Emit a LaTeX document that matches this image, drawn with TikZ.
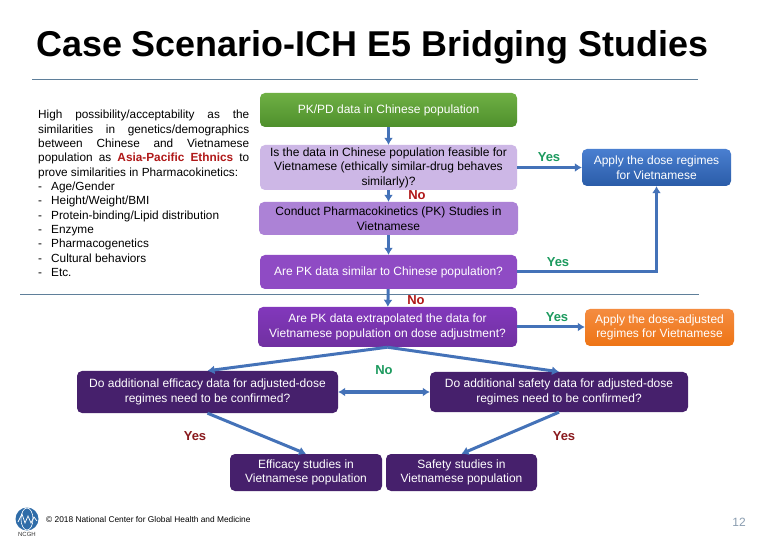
\documentclass[tikz,border=0pt]{standalone}
\usepackage{fontspec}
\setmainfont{Liberation Sans}
\usetikzlibrary{arrows.meta,calc}
\definecolor{linkblue}{HTML}{4472B8}
\definecolor{rulecol}{HTML}{5F7F9A}
\definecolor{yesgreen}{HTML}{1C9A5E}
\definecolor{nored}{HTML}{B01818}
\definecolor{yesred}{HTML}{8A1A1E}
\definecolor{darkvio}{HTML}{46206C}
\definecolor{greenT}{HTML}{6FB044}
\definecolor{greenB}{HTML}{4E8F2C}
\definecolor{lilac}{HTML}{CDB7E6}
\definecolor{midvio}{HTML}{AC82D6}
\definecolor{vio}{HTML}{8F4BC4}
\definecolor{vioT}{HTML}{8238BC}
\definecolor{vioB}{HTML}{7030A0}
\definecolor{blueT}{HTML}{4A7FD0}
\definecolor{blueB}{HTML}{2A5CA8}
\definecolor{orangeT}{HTML}{F48C40}
\definecolor{orangeB}{HTML}{EE7415}
\definecolor{logoblue}{HTML}{2F6CA8}
\definecolor{pagecol}{HTML}{8A9DB0}
\tikzset{
  flowbox/.style={rounded corners=5pt,inner sep=0pt,align=center,text=white,
    font=\fontsize{12}{14.6}\selectfont},
  link/.style={draw=linkblue,line width=3pt,-{Latex[length=7pt,width=9pt]}},
  tag/.style={font=\fontsize{13}{15}\selectfont\bfseries,inner sep=0pt},
  rulebar/.style={draw=rulecol,line width=0.8pt}
}
\newcommand{\boxat}[7]{% name, x0, y0, x1, y1, style, text
  \node[flowbox,#6,minimum width={(#4-#2)*1pt},minimum height={(#5-#3)*1pt}] (#1) at ({(#2+#4)/2},{(#3+#5)/2}) {#7};}
\newcommand{\dashitem}[1]{\leavevmode\hbox to 13pt{-\hfil}#1}
\begin{document}
\begin{tikzpicture}[x=1pt,y=-1pt]
\useasboundingbox (0,0) rectangle (780,540);
\fill[white] (0,0) rectangle (780,540);

% title and rules
\node[anchor=base west,inner sep=0pt,font=\fontsize{35.9}{40}\selectfont\bfseries] (title) at (36,57) {Case Scenario-ICH E5 Bridging Studies};
\coordinate (ruleAl) at (32,79); \coordinate (ruleAr) at (698,79);
\coordinate (ruleBl) at (20,294); \coordinate (ruleBr) at (699,294);
\draw[rulebar] (ruleAl) -- (ruleAr);
\draw[rulebar] (ruleBl) -- (ruleBr);

% left text
\node[anchor=north west,inner sep=0pt,text width=211pt,align=justify,font=\fontsize{11.8}{14.36}\selectfont] (intro) at (38,110) {%
High possibility/acceptability as the\linebreak
similarities in genetics/demographics\linebreak
between Chinese and Vietnamese\linebreak
population as {\bfseries\color{nored}Asia-Pacific Ethnics} to\linebreak
prove similarities in Pharmacokinetics:\hfill\null\\
\dashitem{Age/Gender}\hfill\null\\
\dashitem{Height/Weight/BMI}\hfill\null\\
\dashitem{Protein-binding/Lipid distribution}\hfill\null\\
\dashitem{Enzyme}\hfill\null\\
\dashitem{Pharmacogenetics}\hfill\null\\
\dashitem{Cultural behaviors}\hfill\null\\
\dashitem{Etc.}\hfill\null};

% boxes
\boxat{pkpd}{260}{93}{517}{127}{top color=greenT,bottom color=greenB}{\raisebox{1.5pt}{PK/PD data in Chinese population}}
\boxat{feas}{260}{145}{517}{190}{fill=lilac,text=black}{Is the data in Chinese population feasible for\\Vietnamese (ethically similar-drug behaves\\similarly)?}
\boxat{conduct}{259}{202}{518}{235}{fill=midvio,text=black}{Conduct Pharmacokinetics (PK) Studies in\\Vietnamese}
\boxat{simil}{260}{255}{517}{289}{fill=vio}{Are PK data similar to Chinese population?}
\boxat{extra}{258}{307}{517}{347}{top color=vioT,bottom color=vioB}{Are PK data extrapolated the data for\\Vietnamese population on dose adjustment?}
\boxat{effq}{77}{371}{338}{413}{fill=darkvio}{Do additional efficacy data for adjusted-dose\\regimes need to be confirmed?}
\boxat{safq}{430}{372}{688}{412}{fill=darkvio}{Do additional safety data for adjusted-dose\\regimes need to be confirmed?}
\boxat{effs}{230}{454}{382}{491}{fill=darkvio}{Efficacy studies in\\Vietnamese population}
\boxat{safs}{386}{454}{537}{491}{fill=darkvio}{Safety studies in\\Vietnamese population}
\boxat{apply}{582}{149}{731}{186}{top color=blueT,bottom color=blueB}{Apply the dose regimes\\for Vietnamese}
\boxat{orange}{585}{309}{734}{346}{top color=orangeT,bottom color=orangeB}{Apply the dose-adjusted\\regimes for Vietnamese}

% connectors
\draw[link] (pkpd) -- (feas);
\draw[link] (feas) -- (conduct);
\draw[link] (conduct) -- (simil);
\draw[link] (simil) -- (extra);
\draw[link] (feas.east) -- (apply.west |- feas.east);
\draw[link] (simil.east) -| (apply.south);
\draw[link] (extra.east) -- (orange.west |- extra.east);
\draw[link] (extra.south) -- (effq.north);
\draw[link] (extra.south) -- (safq.north);
\draw[link,{Latex[length=7pt,width=9pt]}-{Latex[length=7pt,width=9pt]}] (effq.east) -- (safq.west);
\draw[link] (effq.south) -- (effs.north);
\draw[link] (safq.south) -- (safs.north);

% labels
\node[tag,text=nored] (no1) at (417,195) {No};
\node[tag,text=nored] (no2) at (416,300) {No};
\node[tag,text=yesgreen] (yes1) at (549,157) {Yes};
\node[tag,text=yesgreen] (yes2) at (558,262) {Yes};
\node[tag,text=yesgreen] (yes3) at (557,317) {Yes};
\node[tag,text=yesgreen] (no3) at (384,370) {No};
\node[tag,text=yesred] (yes4) at (195,436) {Yes};
\node[tag,text=yesred] (yes5) at (564,436) {Yes};

% footer
\node[circle,fill=logoblue,minimum size=23pt,inner sep=0pt] (logo) at (27,519) {};
\draw[white,line width=0.6pt] (logo.center) ellipse (6pt and 11pt);
\draw[white,line width=0.7pt] (18,522) -- (22,514) -- (25,523) -- (28,516) -- (31,523) -- (34,517) -- (37,521);
\node[inner sep=0pt,font=\fontsize{6}{7}\selectfont,text=black!80] (ncgh) at (27,534) {NCGH};
\node[anchor=west,inner sep=0pt,font=\fontsize{8.35}{10}\selectfont] (foot) at (46,519.5) {© 2018 National Center for Global Health and Medicine};
\node[inner sep=0pt,font=\fontsize{12}{14}\selectfont,text=pagecol] (pageno) at (739,522) {12};
\end{tikzpicture}
\end{document}
